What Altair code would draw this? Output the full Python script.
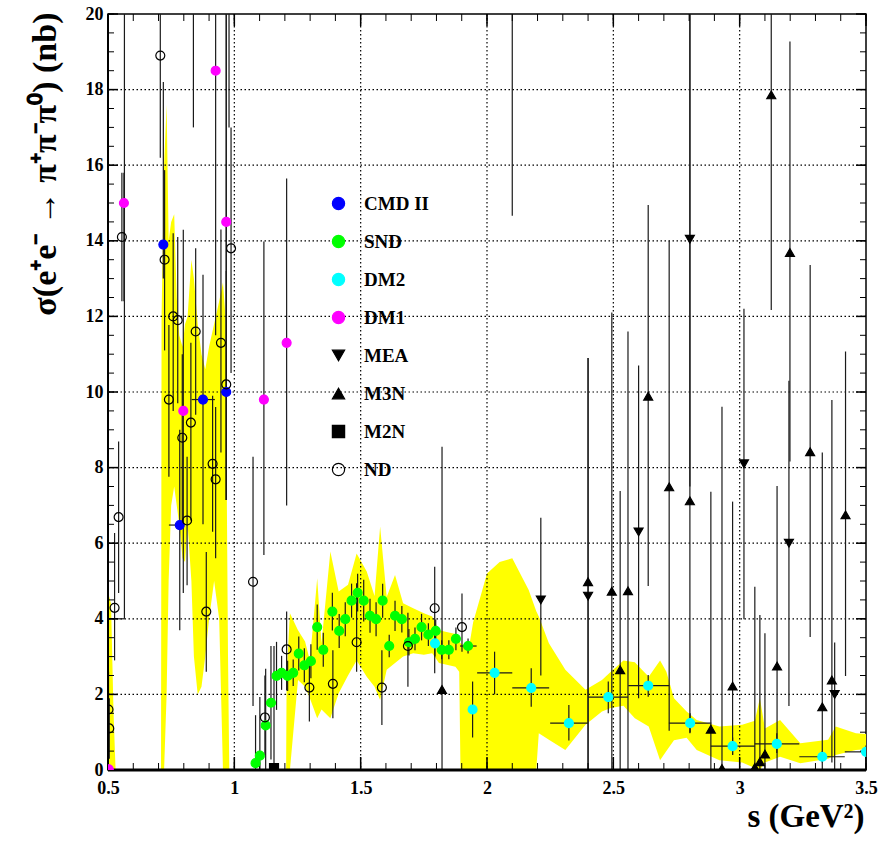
import altair as alt
import pandas as pd
import numpy as np

# ---------------- data ----------------
series_names = ["CMD II", "SND", "DM2", "DM1", "MEA", "M3N", "M2N", "ND"]
series_fill = ["#0000ff", "#00ff00", "#00ffff", "#ff00ff", "#000000", "#000000", "#000000", "transparent"]
series_stroke = ["#0000ff", "#00ff00", "#00ffff", "#ff00ff", "#000000", "#000000", "#000000", "#000000"]
series_shape = ["circle", "circle", "circle", "circle", "triangle-down", "triangle-up", "square", "circle"]

cmd_s = [0.719, 0.784, 0.876, 0.968]
cmd_y = [13.9, 6.48, 9.8, 10.0]
cmd_lo = [13.0, 3.7, 6.5, 7.14]
cmd_hi = [18.2, 9.0, 13.1, 21.0]

snd_s = [1.084, 1.101, 1.124, 1.145, 1.167, 1.187, 1.211, 1.233, 1.255, 1.277, 1.303, 1.328,
         1.352, 1.388, 1.415, 1.439, 1.464, 1.488, 1.512, 1.537, 1.561, 1.587, 1.613, 1.636,
         1.663, 1.691, 1.715, 1.741, 1.768, 1.797, 1.821, 1.849, 1.877, 1.925]
snd_y = [0.18, 0.38, 1.18, 1.78, 2.49, 2.57, 2.49, 2.57, 3.08, 2.77, 2.88, 3.78,
         3.18, 4.19, 3.68, 3.99, 4.48, 4.69, 4.48, 4.08, 3.99, 4.48, 3.28, 4.08,
         3.99, 3.38, 3.47, 3.78, 3.58, 3.68, 3.18, 3.18, 3.47, 3.28]
snd_err = [1.27, 1.55, 1.5, 1.5, 0.9, 0.45, 0.4, 0.35, 0.45, 0.45, 0.45, 0.6,
           0.45, 0.5, 0.45, 0.45, 0.45, 0.5, 0.55, 0.45, 0.45, 0.45, 0.3, 0.4,
           0.35, 0.35, 0.3, 0.35, 0.3, 0.3, 0.25, 0.25, 0.3, 0.2]

dm2_s = [1.794, 1.943, 2.030, 2.175, 2.324, 2.480, 2.638, 2.804, 2.972, 3.147, 3.327, 3.500]
dm2_y = [3.35, 1.60, 2.57, 2.17, 1.24, 1.93, 2.23, 1.24, 0.63, 0.69, 0.35, 0.48]
dm2_lo = [3.0, 0.86, 2.0, 1.67, 0.78, 1.5, 1.94, 0.99, 0.40, 0.45, 0.20, 0.30]
dm2_hi = [3.7, 2.34, 3.13, 2.69, 1.72, 2.34, 2.51, 1.50, 0.86, 0.97, 0.50, 0.65]
dm2_xlo = [1.794, 1.943, 1.961, 2.100, 2.250, 2.400, 2.559, 2.720, 2.886, 3.060, 3.236, 3.416]
dm2_xhi = [1.794, 1.943, 2.100, 2.246, 2.400, 2.558, 2.721, 2.888, 3.060, 3.236, 3.416, 3.500]

dm1_s = [0.503, 0.563, 0.798, 0.926, 0.968, 1.117, 1.207]
dm1_y = [0.02, 15.0, 9.5, 18.5, 14.5, 9.8, 11.3]
dm1_lo = [0.0, 12.4, 4.68, 11.5, 7.14, 5.69, 7.0]
dm1_hi = [0.0, 15.8, 14.29, 21.0, 21.0, 13.98, 15.65]

mea_s = [2.213, 2.400, 2.600, 2.803, 3.017, 3.195, 3.376]
mea_y = [4.5, 4.6, 6.3, 14.04, 8.1, 6.0, 2.0]
mea_lo = [2.5, 0.0, 1.9, 7.5, 3.99, 1.69, 0.0]
mea_hi = [6.67, 10.9, 10.7, 21.0, 12.2, 10.3, 3.37]

m3n_s = [1.822, 2.400, 2.494, 2.527, 2.558, 2.638, 2.721, 2.803, 2.886, 2.930, 2.972,
         3.060, 3.080, 3.100, 3.125, 3.148, 3.199, 3.279, 3.327, 3.365, 3.419]
m3n_y = [2.13, 4.98, 4.73, 2.65, 4.74, 9.89, 7.49, 7.12, 1.08, 0.04, 2.22,
         0.07, 0.22, 0.42, 17.86, 2.75, 13.69, 8.42, 1.67, 2.38, 6.75]
m3n_lo = [0.0, 0.0, 0.0, 0.0, 0.0, 4.87, 1.04, 0.97, 0.0, 0.0, 0.4,
          0.0, 0.0, 0.0, 12.17, 0.0, 8.16, 3.52, 0.0, 0.2, 2.49]
m3n_hi = [8.55, 10.9, 12.1, 7.38, 11.6, 14.95, 14.0, 21.0, 7.36, 9.61, 7.1,
          4.85, 4.1, 3.62, 21.0, 7.51, 19.27, 13.36, 8.4, 9.79, 11.07]

m2n_s = [1.157]
m2n_y = [0.05]
m2n_lo = [0.0]
m2n_hi = [3.28]

nd_s = [0.502, 0.505, 0.526, 0.542, 0.555, 0.707, 0.724, 0.741, 0.758, 0.776, 0.794, 0.813,
        0.828, 0.847, 0.889, 0.914, 0.926, 0.947, 0.968, 0.987, 1.074, 1.121, 1.207, 1.297,
        1.390, 1.484, 1.584, 1.687, 1.793, 1.901]
nd_y = [1.6, 1.1, 4.29, 6.69, 14.1, 18.9, 13.5, 9.8, 12.0, 11.9, 8.79, 6.6,
        9.19, 11.6, 4.19, 8.1, 7.69, 11.3, 10.2, 13.8, 4.98, 1.39, 3.19, 2.18,
        2.28, 3.38, 2.18, 3.28, 4.28, 3.78]
nd_lo = [0.6, 0.3, 2.9, 4.68, 12.4, 16.2, 11.1, 7.76, 9.5, 9.7, 6.5, 4.89,
         6.6, 9.4, 2.6, 6.3, 5.6, 8.4, 7.14, 10.5, 1.69, 0.4, 2.1, 1.28,
         1.37, 2.6, 1.19, 2.2, 2.56, 3.13]
nd_hi = [2.6, 1.9, 6.27, 8.69, 15.8, 21.0, 15.87, 11.77, 14.2, 14.1, 11.0, 8.29,
         11.3, 13.8, 5.77, 9.9, 9.6, 14.3, 13.2, 17.0, 8.29, 2.5, 4.19, 2.82,
         3.17, 4.94, 3.17, 4.16, 5.38, 4.67]

# error bars whose markers lie above the plotted range
extra_s = [0.565, 0.838, 0.979, 2.100]
extra_lo = [4.0, 17.0, 17.0, 14.66]
extra_hi = [21.0, 21.0, 21.0, 21.0]
# horizontal error bars
hbar_y = [6.48, 9.8, 4.0, 3.28]
hbar_lo = [0.741, 0.831, 0.500, 1.893]
hbar_hi = [0.798, 0.923, 0.565, 1.959]

# yellow band (envelope)
band_s = [0.500, 0.512, 0.522, 0.530, 0.7099, 0.712, 0.722, 0.732, 0.740, 0.750, 0.762, 0.772,
          0.782, 0.795, 0.805, 0.815, 0.830, 0.840, 0.855, 0.870, 0.885, 0.900, 0.920, 0.940,
          0.955, 0.965, 0.975, 0.980, 1.2049, 1.207, 1.220, 1.252, 1.280, 1.299, 1.328, 1.345,
          1.380, 1.413, 1.450, 1.484, 1.524, 1.555, 1.577, 1.603, 1.636, 1.668, 1.708, 1.750,
          1.783, 1.810, 1.875, 1.890, 1.8951, 1.915, 1.930, 1.945, 2.000, 2.050, 2.100, 2.165,
          2.195, 2.205, 2.245, 2.310, 2.390, 2.455, 2.490, 2.540, 2.585, 2.640, 2.685, 2.710,
          2.740, 2.790, 2.830, 2.920, 3.010, 3.060, 3.080, 3.100, 3.160, 3.240, 3.350, 3.380,
          3.460, 3.500]
band_lo = [0.0, 0.0, 0.0, 0.0, 0.0, 0.0, 0.0, 2.0, 5.0, 7.0, 7.5, 7.0,
           6.5, 5.6, 5.5, 6.5, 5.0, 3.0, 2.0, 2.2, 3.0, 4.0, 5.0, 4.0,
           0.0, 0.0, 0.0, 0.0, 0.0, 0.0, 0.0, 2.38, 2.2, 1.9, 1.37, 1.6,
           1.37, 2.03, 2.5, 2.9, 2.47, 2.2, 1.85, 2.65, 2.83, 3.0, 3.09, 3.05,
           3.09, 2.83, 2.73, 2.6, 0.0, 0.0, 0.0, 0.0, 0.0, 0.0, 0.0, 0.0,
           0.0, 0.97, 0.8, 0.53, 1.2, 1.55, 1.64, 1.7, 1.37, 1.15, 0.26, 0.5,
           0.79, 0.85, 0.53, 0.26, 0.2, 0.05, 0.0, 0.2, 0.35, 0.18, 0.3, 0.4,
           0.53, 0.55]
band_hi = [4.7, 4.4, 1.5, 0.0, 0.0, 12.0, 16.0, 17.6, 14.0, 14.5, 14.7, 12.5,
           11.5, 11.2, 11.8, 12.0, 13.5, 13.0, 11.8, 11.0, 10.6, 11.2, 11.8, 12.4,
           12.9, 12.0, 3.0, 0.0, 0.0, 2.5, 4.15, 3.7, 3.4, 2.9, 5.07, 3.35,
           5.78, 4.72, 4.9, 5.73, 5.25, 4.6, 6.44, 4.58, 5.16, 4.41, 4.28, 4.15,
           4.06, 3.7, 3.6, 3.4, 3.35, 3.26, 3.3, 3.9, 5.2, 5.5, 5.6, 4.76,
           4.2, 4.06, 3.35, 2.65, 2.12, 2.38, 2.6, 2.9, 2.85, 2.47, 2.9, 2.6,
           1.9, 1.55, 1.32, 1.15, 1.2, 1.3, 1.9, 1.1, 1.32, 0.71, 0.8, 1.15,
           0.97, 0.95]

x_ticks_major = [0.5, 1.0, 1.5, 2.0, 2.5, 3.0, 3.5]
y_ticks_major = [0, 2, 4, 6, 8, 10, 12, 14, 16, 18, 20]
x_grid = [1.0, 1.5, 2.0, 2.5, 3.0]
y_grid = [2, 4, 6, 8, 10, 12, 14, 16, 18]

# ---------------- tables ----------------
pts = []
err = []
def add(name, xs, ys, lo=None, hi=None):
    for i, (a, b) in enumerate(zip(xs, ys)):
        pts.append({"s": a, "y": b, "series": name})
        if lo is not None:
            err.append({"s": a, "lo": lo[i], "hi": hi[i]})

add("CMD II", cmd_s, cmd_y, cmd_lo, cmd_hi)
add("SND", snd_s, snd_y, [max(0, v - e) for v, e in zip(snd_y, snd_err)],
    [v + e for v, e in zip(snd_y, snd_err)])
add("DM2", dm2_s, dm2_y, dm2_lo, dm2_hi)
add("DM1", dm1_s, dm1_y, dm1_lo, dm1_hi)
add("MEA", mea_s, mea_y, mea_lo, mea_hi)
add("M3N", m3n_s, m3n_y, m3n_lo, m3n_hi)
add("M2N", m2n_s, m2n_y, m2n_lo, m2n_hi)
add("ND", nd_s, nd_y, nd_lo, nd_hi)
for a, l, h in zip(extra_s, extra_lo, extra_hi):
    err.append({"s": a, "lo": l, "hi": h})

pts_df = pd.DataFrame(pts)
err_df = pd.DataFrame(err)
hbar_df = pd.DataFrame({"y": hbar_y + dm2_y, "x1": hbar_lo + dm2_xlo, "x2": hbar_hi + dm2_xhi})
band_df = pd.DataFrame({"s": band_s, "lo": band_lo, "hi": band_hi})

x_minor = pd.DataFrame({"t": np.round(np.arange(0.5, 3.5001, 0.1), 3)})
x_major = pd.DataFrame({"t": x_ticks_major})
y_minor = pd.DataFrame({"t": np.arange(0, 20.001, 0.5)})
y_major = pd.DataFrame({"t": y_ticks_major})

W, H = 758, 756
FONT = "Liberation Serif"

xscale = alt.Scale(domain=[0.5, 3.5], nice=False, zero=False)
yscale = alt.Scale(domain=[0, 20], nice=False, zero=False)
xaxis = alt.Axis(values=x_ticks_major, format="~g", grid=False, ticks=False, domain=False,
                 labelFont=FONT, labelFontWeight="bold", labelFontSize=18, labelPadding=9,
                 labelColor="black", labelFlush=False,
                 title="s (GeV²)", titleFont=FONT, titleFontWeight="bold", titleFontSize=33,
                 titleColor="black", titleAnchor="end", titleX=756, titleY=46,
                 titleAlign="right", titleBaseline="middle")
yaxis = alt.Axis(values=y_ticks_major, grid=False, ticks=False, domain=False,
                 labelFont=FONT, labelFontWeight="bold", labelFontSize=18, labelPadding=5,
                 labelColor="black", labelFlush=False,
                 title="σ(e⁺e⁻ → π⁺π⁻π⁰) (nb)", titleFont=FONT, titleFontWeight="bold",
                 titleFontSize=34, titleColor="black", titleAngle=-90, titleX=-63, titleY=-2,
                 titleAlign="right", titleBaseline="middle")

def X(f):
    return alt.X(f, type="quantitative", scale=xscale, axis=xaxis)

def Y(f):
    return alt.Y(f, type="quantitative", scale=yscale, axis=yaxis)

band = alt.Chart(band_df).mark_area(color="#ffff00", opacity=1, clip=True).encode(
    x=X("s"), y=Y("hi"), y2="lo")

vgrid = alt.Chart(pd.DataFrame({"s": x_grid})).mark_rule(
    color="black", strokeWidth=1.2, strokeDash=[1.5, 2.5]).encode(x=X("s"))
hgrid = alt.Chart(pd.DataFrame({"y": y_grid})).mark_rule(
    color="black", strokeWidth=1.2, strokeDash=[1.5, 2.5]).encode(y=Y("y"))

ebars = alt.Chart(err_df).mark_rule(color="#1a1a1a", strokeWidth=1.2, clip=True).encode(
    x=X("s"), y=Y("lo"), y2="hi")
hbars = alt.Chart(hbar_df).mark_rule(color="#1a1a1a", strokeWidth=1.2, clip=True).encode(
    x=X("x1"), x2="x2", y=Y("y"))

legend = alt.Legend(title=None, orient="none", legendX=221, legendY=180,
                    labelFont=FONT, labelFontWeight="bold", labelFontSize=19,
                    labelColor="black", symbolSize=150, labelOffset=16, rowPadding=18,
                    padding=0, symbolStrokeWidth=1.2)

points = alt.Chart(pts_df).mark_point(size=80, strokeWidth=1.2, opacity=1, clip=True).encode(
    x=X("s"), y=Y("y"),
    fill=alt.Fill("series:N", scale=alt.Scale(domain=series_names, range=series_fill), legend=legend),
    stroke=alt.Stroke("series:N", scale=alt.Scale(domain=series_names, range=series_stroke), legend=legend),
    shape=alt.Shape("series:N", scale=alt.Scale(domain=series_names, range=series_shape), legend=legend),
)

tick_color = "black"
bx_minor = alt.Chart(x_minor).mark_rule(color=tick_color, strokeWidth=1).encode(
    x=X("t"), y=alt.value(H), y2=alt.value(H - 7))
bx_major = alt.Chart(x_major).mark_rule(color=tick_color, strokeWidth=1.5).encode(
    x=X("t"), y=alt.value(H), y2=alt.value(H - 13))
tx_minor = alt.Chart(x_minor).mark_rule(color=tick_color, strokeWidth=1).encode(
    x=X("t"), y=alt.value(0), y2=alt.value(7))
tx_major = alt.Chart(x_major).mark_rule(color=tick_color, strokeWidth=1.5).encode(
    x=X("t"), y=alt.value(0), y2=alt.value(12))
ly_minor = alt.Chart(y_minor).mark_rule(color=tick_color, strokeWidth=1).encode(
    y=Y("t"), x=alt.value(0), x2=alt.value(6))
ly_major = alt.Chart(y_major).mark_rule(color=tick_color, strokeWidth=1.5).encode(
    y=Y("t"), x=alt.value(0), x2=alt.value(10))
ry_minor = alt.Chart(y_minor).mark_rule(color=tick_color, strokeWidth=1).encode(
    y=Y("t"), x=alt.value(W), x2=alt.value(W - 6))
ry_major = alt.Chart(y_major).mark_rule(color=tick_color, strokeWidth=1.5).encode(
    y=Y("t"), x=alt.value(W), x2=alt.value(W - 10))

frame_left = alt.Chart(pd.DataFrame({"s": [0.5]})).mark_rule(color="black", strokeWidth=2).encode(x=X("s"))
frame_bottom = alt.Chart(pd.DataFrame({"y": [0]})).mark_rule(color="black", strokeWidth=3).encode(y=Y("y"))

chart = alt.layer(
    band, vgrid, hgrid, ebars, hbars,
    bx_minor, bx_major, tx_minor, tx_major, ly_minor, ly_major, ry_minor, ry_major,
    frame_left, frame_bottom, points
).properties(
    width=W, height=H,
    autosize=alt.AutoSizeParams(type="none"),
    padding={"left": 108, "top": 14, "right": 16, "bottom": 72},
    background="white",
).configure_view(stroke="black", strokeWidth=1.5)

chart.save("out.html", embed_options={"renderer": "svg", "actions": False})
